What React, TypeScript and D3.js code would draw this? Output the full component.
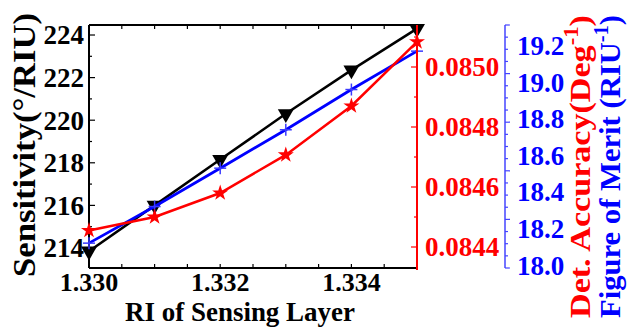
import React from 'react';
import * as d3 from 'd3';

const ri = [1.330, 1.331, 1.332, 1.333, 1.334, 1.335];
const sensitivity = [213.85, 216.0, 218.15, 220.3, 222.35, 224.3];
const detAccuracy = [0.084455, 0.0845, 0.08458, 0.084707, 0.08487, 0.085084];
const figureOfMerit = [18.12, 18.32, 18.53, 18.74, 18.96, 19.17];

const xTickLabels = [1.330, 1.332, 1.334];
const sensTickLabels = [214, 216, 218, 220, 222, 224];
const detTickLabels = [0.0844, 0.0846, 0.0848, 0.0850];
const fomTickLabels = [18.0, 18.2, 18.4, 18.6, 18.8, 19.0, 19.2];

const W = 627, H = 328;
const L = 89, R = 417, T = 25, B = 268;
const FONT = 'Liberation Serif';

export default function App() {
  const x = d3.scaleLinear().domain([1.330, 1.335]).range([L, R]);
  const yS = d3.scaleLinear().domain([213.06, 224.47]).range([B, T]);
  const yD = d3.scaleLinear().domain([0.08433, 0.08514]).range([B, T]);
  const yF = d3.scaleLinear().domain([17.984, 19.313]).range([B, T]);

  const xMinor = d3.range(0, 11).map(i => 1.330 + i * 0.0005);
  const sMinor = d3.range(214, 225, 1);
  const dMinor = d3.range(0, 8).map(i => 0.0844 + i * 0.0001);
  const fTicks = d3.range(0, 21).map(i => yF.domain()[0] + (i * (yF.domain()[1] - yF.domain()[0])) / 20);

  const lineS = d3.line<number>().x((_, i) => x(ri[i])).y(d => yS(d));
  const lineD = d3.line<number>().x((_, i) => x(ri[i])).y(d => yD(d));
  const lineF = d3.line<number>().x((_, i) => x(ri[i])).y(d => yF(d));

  const tri = d3.symbol().type(d3.symbolTriangle).size(110)()!;
  const star = d3.symbol().type(d3.symbolStar).size(80)()!;

  const fx = d3.format('.3f');
  const fd = d3.format('.4f');
  const ff = d3.format('.1f');

  return (
    <svg width={W} height={H} style={{ position: 'absolute', left: 0, top: 0, background: '#fff' }}>
      {/* frame */}
      <line x1={L} x2={R} y1={T} y2={T} stroke="#000" strokeWidth={2} />
      <line x1={L} x2={R} y1={B} y2={B} stroke="#000" strokeWidth={2} />
      <line x1={L} x2={L} y1={T} y2={B} stroke="#000" strokeWidth={2} />
      {/* x ticks */}
      {xMinor.map((v, i) => (
        <g key={'xt' + i}>
          <line x1={x(v)} x2={x(v)} y1={B} y2={B - 4} stroke="#000" strokeWidth={1.2} />
          <line x1={x(v)} x2={x(v)} y1={T} y2={T + 4} stroke="#000" strokeWidth={1.2} />
        </g>
      ))}
      {xTickLabels.map(v => (
        <text key={'xl' + v} fontFamily={FONT} fontWeight="bold" x={x(v)} y={291} textAnchor="middle" fontSize={26}>{fx(v)}</text>
      ))}
      {/* left ticks */}
      {sMinor.map(v => (
        <line key={'st' + v} x1={L} x2={L + (v % 2 === 0 ? 6 : 3)} y1={yS(v)} y2={yS(v)} stroke="#000" strokeWidth={1.2} />
      ))}
      {sensTickLabels.map(v => (
        <text key={'sl' + v} fontFamily={FONT} fontWeight="bold" x={84} y={yS(v)} dy="0.35em" textAnchor="end" fontSize={27}>{v}</text>
      ))}
      {/* data: black */}
      <path d={lineS(sensitivity)!} fill="none" stroke="#000" strokeWidth={2.5} />
      {sensitivity.map((d, i) => (
        <path key={'m1' + i} d={tri} transform={`translate(${x(ri[i])},${yS(d)}) rotate(180)`} fill="#000" />
      ))}
      {/* blue */}
      <path d={lineF(figureOfMerit)!} fill="none" stroke="#0000ff" strokeWidth={2.8} />
      {figureOfMerit.map((d, i) => (
        <g key={'m2' + i} transform={`translate(${x(ri[i])},${yF(d)})`} stroke="#3a3aff" strokeWidth={1.5}>
          <line x1={-6} x2={6} y1={0} y2={0} />
          <line x1={0} x2={0} y1={-6} y2={6} />
        </g>
      ))}
      {/* red */}
      <path d={lineD(detAccuracy)!} fill="none" stroke="#ff0000" strokeWidth={2.5} />
      {detAccuracy.map((d, i) => (
        <path key={'m3' + i} d={star} transform={`translate(${x(ri[i])},${yD(d)})`} fill="#ff0000" />
      ))}
      {/* red axis */}
      <line x1={R} x2={R} y1={T} y2={B + 2} stroke="#ff0000" strokeWidth={2} />
      {dMinor.map((v, i) => (
        <line key={'dt' + i} x1={R} x2={R - (i % 2 === 0 ? 6 : 3)} y1={yD(v)} y2={yD(v)} stroke="#ff0000" strokeWidth={1.2} />
      ))}
      {detTickLabels.map(v => (
        <text key={'dl' + v} fontFamily={FONT} fontWeight="bold" x={425} y={yD(v)} dy="0.35em" fontSize={27} fill="#ff0000">{fd(v)}</text>
      ))}
      {/* blue axis */}
      <line x1={505} x2={505} y1={T} y2={B} stroke="#4444ff" strokeWidth={1.5} />
      {fTicks.map((v, i) => (
        <line key={'ft' + i} x1={505} x2={505 + (i % 4 === 0 ? 5 : 3)} y1={yF(v)} y2={yF(v)} stroke="#4444ff" strokeWidth={1.2} />
      ))}
      {fomTickLabels.map(v => (
        <text key={'fl' + v} fontFamily={FONT} fontWeight="bold" x={517} y={yF(v)} dy="0.35em" fontSize={27} fill="#0000ff">{ff(v)}</text>
      ))}
      {/* titles */}
      <text fontFamily={FONT} fontWeight="bold" x={125} y={321} fontSize={28} textLength={230} lengthAdjust="spacingAndGlyphs">RI of Sensing Layer</text>
      <text fontFamily={FONT} fontWeight="bold" transform="translate(35,277) rotate(-90)" fontSize={32} textLength={264} lengthAdjust="spacingAndGlyphs">Sensitivity(°/RIU)</text>
      <text fontFamily={FONT} fontWeight="bold" transform="translate(590,318) rotate(-90)" fontSize={30} fill="#ff0000" textLength={303} lengthAdjust="spacingAndGlyphs">
        Det. Accuracy(Deg<tspan dy={-12} fontSize={20}>-1</tspan><tspan dy={12}>)</tspan>
      </text>
      <text fontFamily={FONT} fontWeight="bold" transform="translate(620,318) rotate(-90)" fontSize={30} fill="#0000ff" textLength={303} lengthAdjust="spacingAndGlyphs">
        Figure of Merit (RIU<tspan dy={-12} fontSize={20}>-1</tspan><tspan dy={12}>)</tspan>
      </text>
    </svg>
  );
}
